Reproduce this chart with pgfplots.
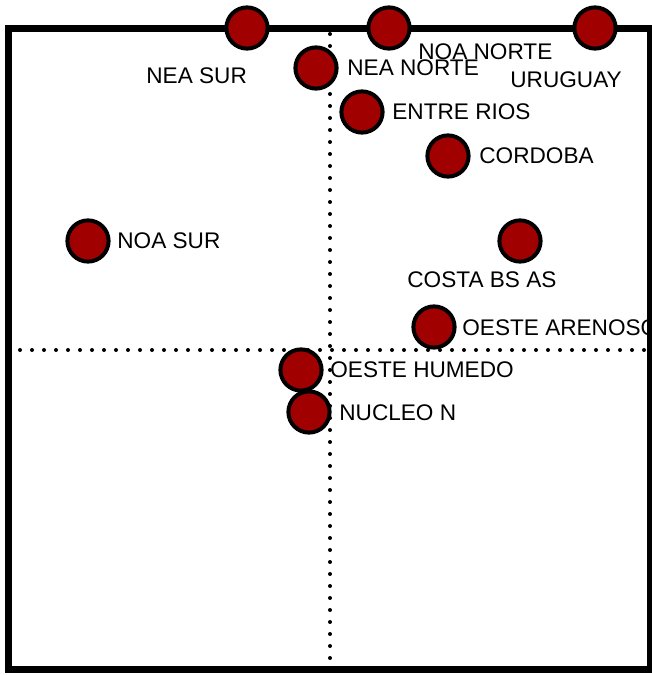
\documentclass[border=0pt]{standalone}
\usepackage{fontspec}
\setmainfont{Liberation Sans}
\usepackage{pgfplots}
\usepackage{pgfplotstable}
\pgfplotsset{compat=1.18}
\definecolor{dotred}{RGB}{160,0,0}

% positions of the points (x right, y up)
\pgfplotstableread[col sep=comma]{
x,y
247,647
389,647
595,647
316,607
362,563
448,519
88,434
520,434
434,348
301,305
309,263
}\points

% label anchors (west side of text)
\pgfplotstableread[col sep=comma]{
x,y,label
146,599,NEA SUR
418,623,NOA NORTE
510,595,URUGUAY
347,607,NEA NORTE
392,563,ENTRE RIOS
479,519,CORDOBA
117,434,NOA SUR
407,395,COSTA BS AS
462,347,OESTE ARENOSO
330,305,OESTE HUMEDO
339,262,NUCLEO N
}\labels

\begin{document}
\begin{tikzpicture}
\begin{axis}[
    x=0.5pt, y=0.5pt,
    xmin=8, xmax=650, ymin=5, ymax=646,
    axis line style={line width=3.5pt},
    ticks=none,
    clip=false,
    font=\fontsize{11.3}{13}\selectfont,
]
\addplot[black, line width=2pt, line cap=round, dash pattern=on 0pt off 6pt]
    coordinates {(330,5) (330,646)};
\addplot[black, line width=2pt, line cap=round, dash pattern=on 0pt off 6pt]
    coordinates {(8,325) (650,325)};
\addplot[only marks, mark=*, mark size=10.3pt,
    mark options={fill=dotred, draw=black, line width=2pt}]
    table[x=x, y=y] {\points};
\addplot[only marks, mark=none, nodes near coords,
    point meta=explicit symbolic,
    nodes near coords style={anchor=west, inner sep=0pt, text=black}]
    table[x=x, y=y, meta=label] {\labels};
\coordinate (bl) at (axis cs:0,0);
\coordinate (tr) at (axis cs:652,675);
\end{axis}
\pgfresetboundingbox
\useasboundingbox (bl) rectangle (tr);
\end{tikzpicture}
\end{document}
